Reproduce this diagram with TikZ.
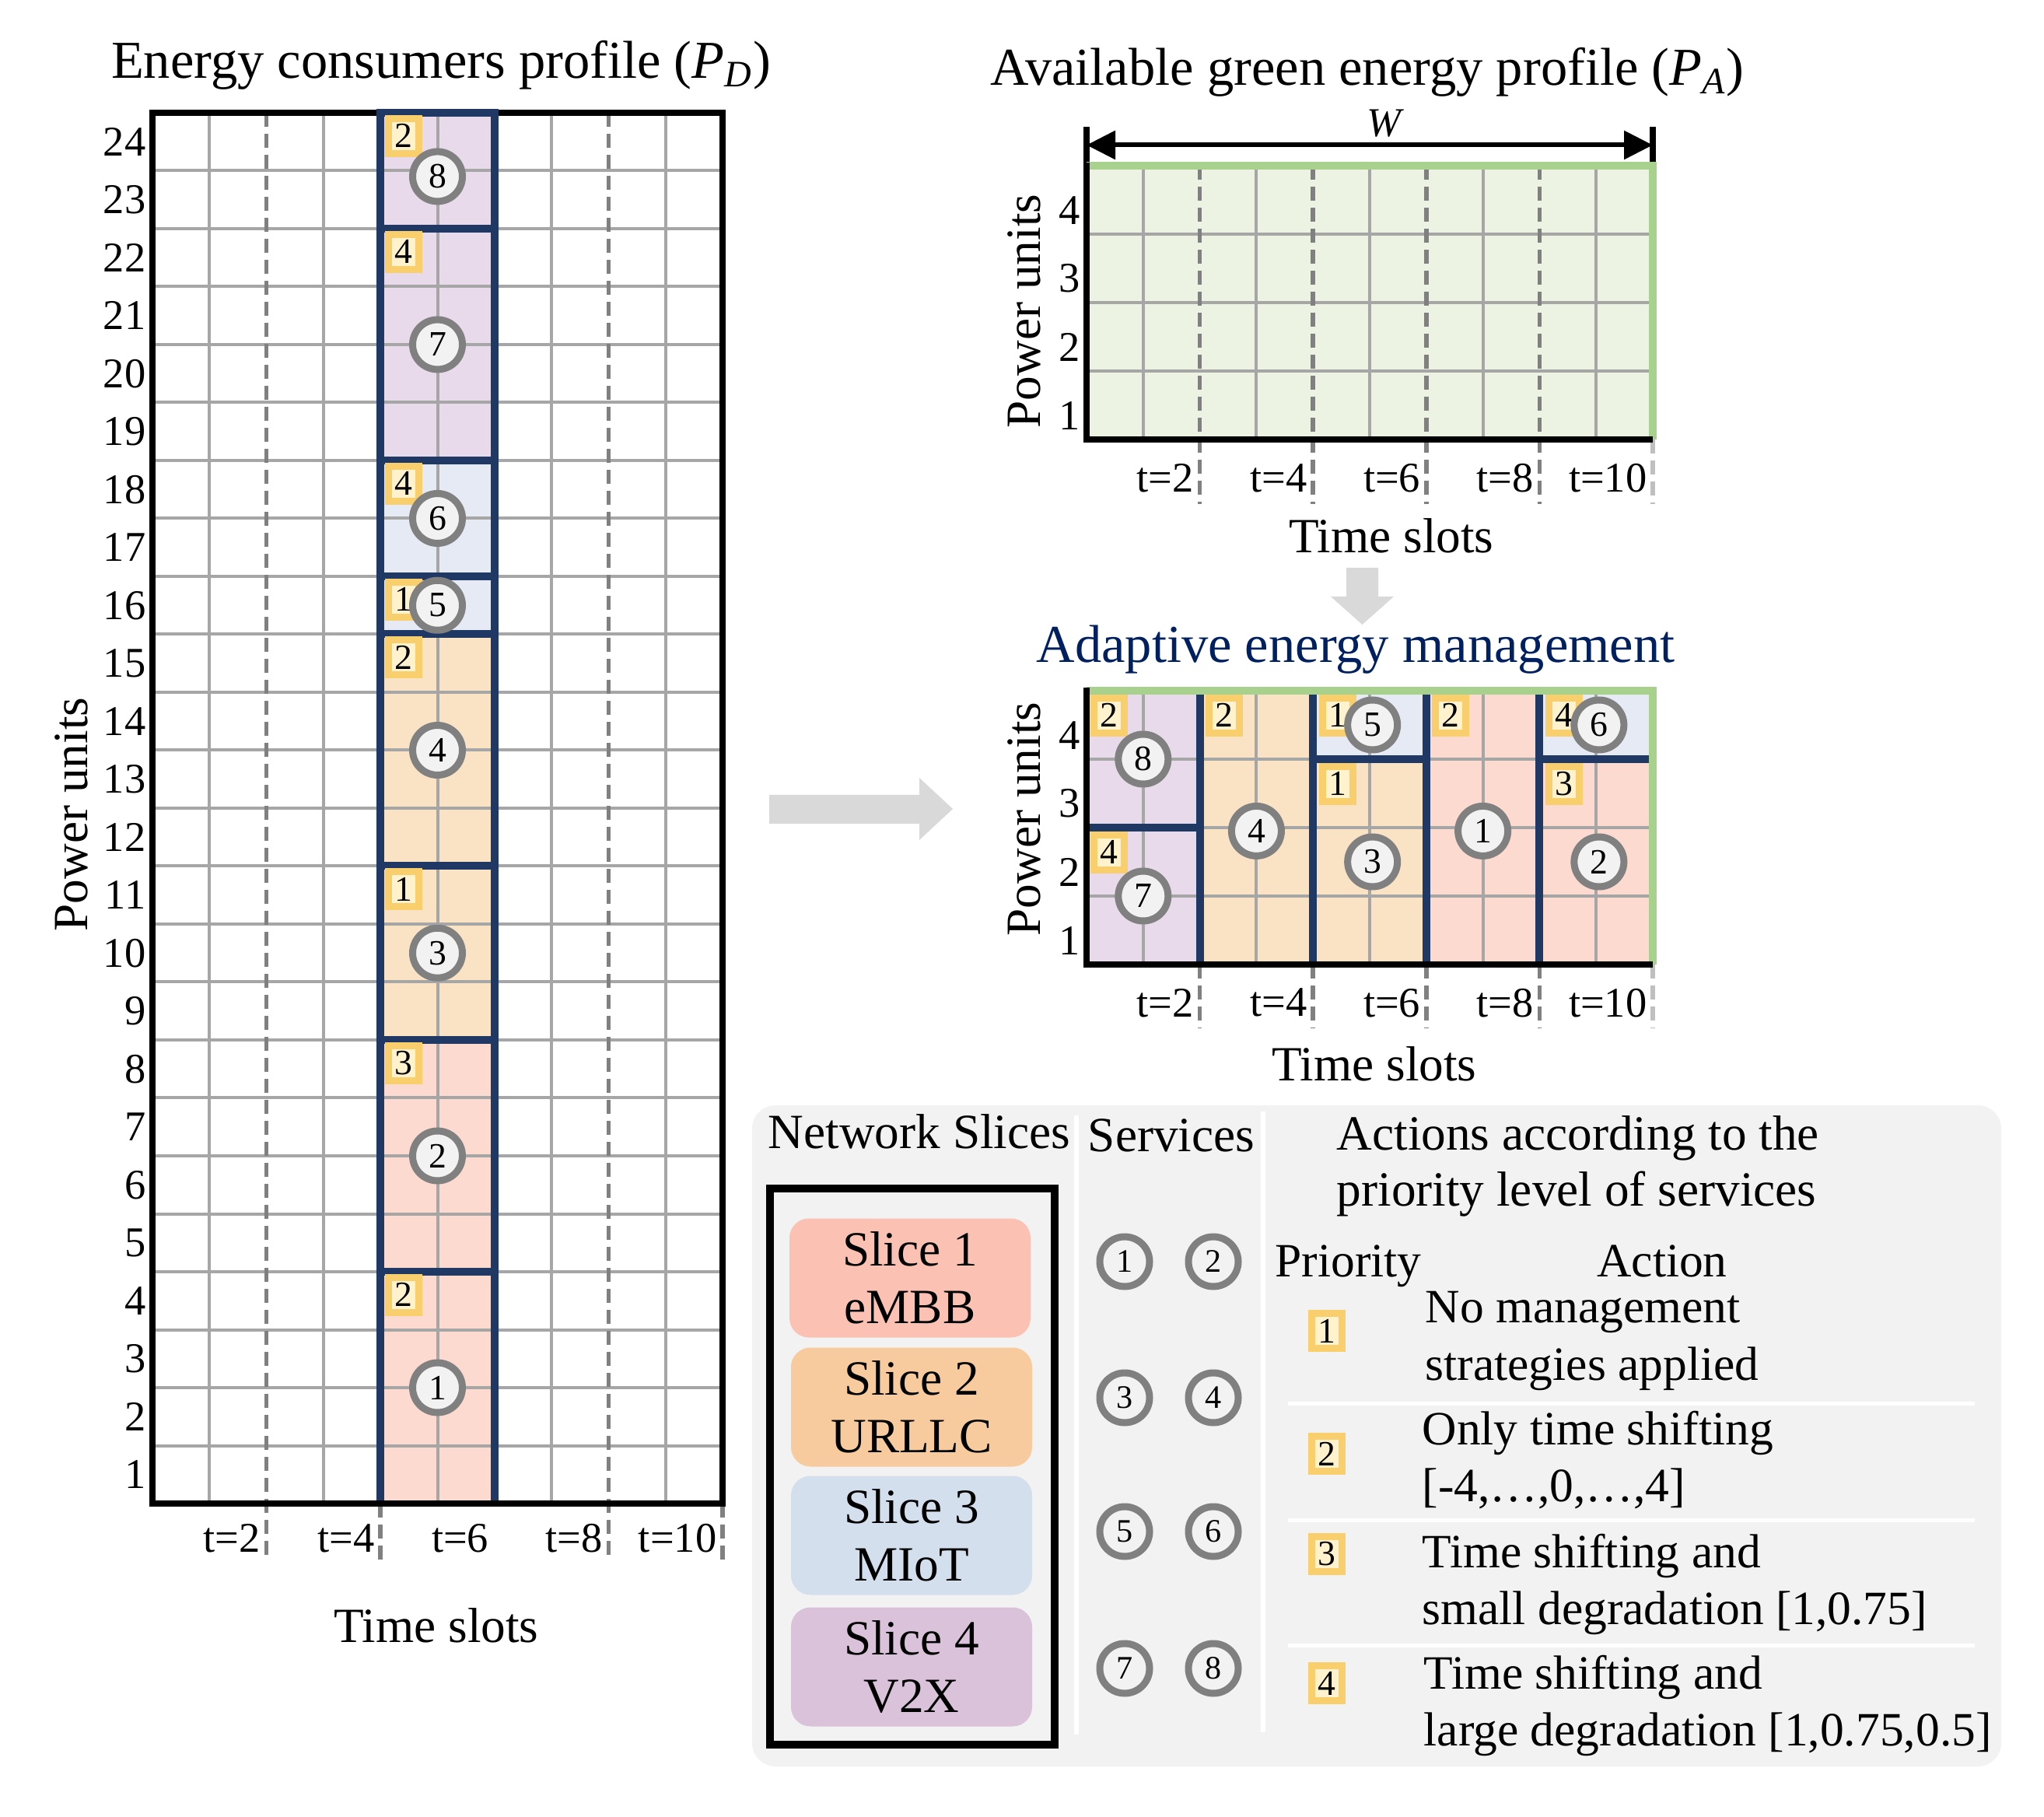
\documentclass[tikz,border=0pt]{standalone}
\usepackage{fontspec}
\setmainfont{Liberation Serif}
\usetikzlibrary{arrows.meta,positioning,calc}

\definecolor{navy}{HTML}{1F3864}
\definecolor{gridgray}{HTML}{A6A6A6}
\definecolor{dashgray}{HTML}{808080}
\definecolor{lightdash}{HTML}{BFBFBF}
\definecolor{redfill}{HTML}{FCDAD0}
\definecolor{orgfill}{HTML}{FAE3C5}
\definecolor{bluefill}{HTML}{E6EAF4}
\definecolor{purfill}{HTML}{E8DAEA}
\definecolor{greenfill}{HTML}{EDF3E3}
\definecolor{greenline}{HTML}{A9D18E}
\definecolor{badgefill}{HTML}{FFF2CC}
\definecolor{badgeline}{HTML}{F9CF6E}
\definecolor{circfill}{HTML}{F2F2F2}
\definecolor{panelgray}{HTML}{F2F2F2}
\definecolor{arrowgray}{HTML}{D9D9D9}
\definecolor{slicered}{HTML}{FBC1B3}
\definecolor{sliceorg}{HTML}{F8CB9F}
\definecolor{sliceblue}{HTML}{D4DFEE}
\definecolor{slicepur}{HTML}{D9C2DA}
\definecolor{titleblue}{HTML}{002060}

\begin{document}
\begin{tikzpicture}[x=1mm,y=1mm,
    svc/.style={circle, draw=dashgray, line width=0.9mm, fill=circfill, minimum size=6.4mm, inner sep=0pt, font=\fontsize{13}{15}\selectfont},
    prio/.style={rectangle, draw=badgeline, line width=0.9mm, fill=badgefill, minimum width=3.9mm, minimum height=4.5mm, inner sep=0pt, font=\fontsize{13}{15}\selectfont},
    gridln/.style={gridgray, line width=0.4mm},
    dashln/.style={dashgray, line width=0.55mm, dash pattern=on 1.8mm off 0.9mm},
    navyln/.style={navy, line width=1mm},
    frameln/.style={black, line width=0.8mm},
    ylbl/.style={anchor=east, inner sep=0pt, xshift=-0.8mm, font=\fontsize{15.5}{18}\selectfont},
    tlbl/.style={anchor=east, inner sep=0pt, xshift=-0.7mm, font=\fontsize{15.5}{18}\selectfont},
    ttl/.style={inner sep=0pt, font=\fontsize{19.5}{23}\selectfont},
    axlbl/.style={inner sep=0pt, font=\fontsize{18}{21}\selectfont},
    slicebox/.style={rounded corners=2.5mm, minimum width=31mm, minimum height=15.3mm, align=center, inner sep=0pt, font=\fontsize{18}{21}\selectfont},
    legtxt/.style={inner sep=0pt, align=left, font=\fontsize{17.5}{21}\selectfont}]

\useasboundingbox (0,0) rectangle (262.8,233.5);

% Energy consumers profile
\node[ttl] (ttlD) at (56.7,225.1) {Energy consumers profile ({\itshape P}\textsubscript{\itshape D})};
\begin{scope}[shift={(19.6mm,40.2mm)}, x=7.33mm, y=7.45mm]
    % Blocks
    \fill[redfill] (4,0) rectangle (6,8);
    \fill[orgfill] (4,8) rectangle (6,15);
    \fill[bluefill] (4,15) rectangle (6,18);
    \fill[purfill] (4,18) rectangle (6,24);
    % Grid
    \foreach \x in {1,3,4,5,6,7,9} \draw[gridln] (\x,0) -- (\x,24);
    \foreach \y in {1,...,23} \draw[gridln] (0,\y) -- (10,\y);
    \foreach \x in {2,8} \draw[dashln] (\x,24) -- (\x,-1);
    \foreach \x in {4,10} \draw[dashln] (\x,0) -- (\x,-1);
    \draw[frameln] (0,0) rectangle (10,24);
    % Slice borders
    \draw[navyln] (4,0) -- (4,24) -- (6,24) -- (6,0);
    \foreach \y in {4,8,11,15,16,18,22} \draw[navyln] (4,\y) -- (6,\y);
    \draw[frameln] (0,0) -- (10,0);
    % Services
    \foreach \s/\cy/\tp/\p in {1/2/4/2, 2/6/8/3, 3/9.5/11/1, 4/13/15/2, 5/15.5/16/1, 6/17/18/4, 7/20/22/4, 8/22.9/24/2} {
        \node[prio] (dp\s) at (4.4,\tp-0.4) {\p};
        \node[svc] (d\s) at (5,\cy) {\s};
    }
    % Axes
    \foreach \r in {1,...,24} \node[ylbl] (dy\r) at (0,\r-0.5) {\r};
    \foreach \t in {2,4,...,10} \node[tlbl] (dt\t) at (\t,-0.6) {t=\t};
\end{scope}
\node[axlbl, rotate=90] (pwrD) at (9.2,128.8) {Power units};
\node[axlbl] (timeD) at (56.1,24.5) {Time slots};

% Available green energy profile
\node[ttl] (ttlA) at (175.8,224.2) {Available green energy profile ({\itshape P}\textsubscript{\itshape A})};
\coordinate (wl) at (139.7,214.85);
\coordinate (wr) at (212.5,214.85);
\draw[line width=0.8mm] (139.7,211.7) -- (139.7,217.2);
\draw[line width=0.8mm] (212.5,211.7) -- (212.5,217.2);
\draw[line width=0.6mm, {Triangle[length=3.7mm,width=3.6mm]}-{Triangle[length=3.7mm,width=3.6mm]}] (wl) -- (wr);
\node[inner sep=0pt, font=\fontsize{15}{18}\selectfont\itshape] (wlbl) at (177.9,217.6) {W};
\begin{scope}[shift={(139.7mm,177.0mm)}, x=7.28mm, y=8.8mm]
    \fill[greenfill] (0,0) rectangle (10,4);
    \foreach \x in {1,3,5,7,9} \draw[gridln] (\x,0) -- (\x,4);
    \foreach \y in {1,2,3} \draw[gridln] (0,\y) -- (10,\y);
    \foreach \x in {2,4,6,8} \draw[dashln] (\x,4) -- (\x,-0.94);
    \draw[dashln, lightdash] (10,0) -- (10,-0.94);
    \draw[greenline, line width=1mm] (0,4) -- (10,4) -- (10,0);
    \draw[frameln] (0,4.05) -- (0,0) -- (10,0);
    \foreach \r in {1,...,4} \node[ylbl] (ay\r) at (0,\r-0.65) {\r};
    \foreach \t in {2,4,...,10} \node[tlbl] (at\t) at (\t,-0.57) {t=\t};
\end{scope}
\node[axlbl, rotate=90] (pwrA) at (131.7,193.5) {Power units};
\node[axlbl] (timeA) at (178.9,164.6) {Time slots};

% Arrows
\fill[arrowgray] (173.1,160.5) -- (177.2,160.5) -- (177.2,156.8) -- (179.2,156.8) -- (175.15,153.2) -- (171.1,156.8) -- (173.1,156.8) -- cycle;
\fill[arrowgray] (98.9,131.3) -- (118.2,131.3) -- (118.2,133.5) -- (122.5,129.5) -- (118.2,125.5) -- (118.2,127.6) -- (98.9,127.6) -- cycle;

% Adaptive energy management
\node[ttl, text=titleblue] (ttlM) at (174.3,150.0) {Adaptive energy management};
\begin{scope}[shift={(139.7mm,109.5mm)}, x=7.28mm, y=8.8mm]
    \fill[purfill] (0,0) rectangle (2,4);
    \fill[orgfill] (2,0) rectangle (4,4);
    \fill[orgfill] (4,0) rectangle (6,3);
    \fill[bluefill] (4,3) rectangle (6,4);
    \fill[redfill] (6,0) rectangle (8,4);
    \fill[redfill] (8,0) rectangle (10,3);
    \fill[bluefill] (8,3) rectangle (10,4);
    \foreach \x in {1,3,5,7,9} \draw[gridln] (\x,0) -- (\x,4);
    \foreach \y in {1,2,3} \draw[gridln] (0,\y) -- (10,\y);
    \foreach \x in {2,4,6,8} \draw[dashln] (\x,0) -- (\x,-0.93);
    \draw[dashln, lightdash] (10,0) -- (10,-0.93);
    \foreach \x in {2,4,6,8} \draw[navyln] (\x,0) -- (\x,4);
    \draw[navyln] (0,2) -- (2,2);
    \draw[navyln] (4,3) -- (6,3);
    \draw[navyln] (8,3) -- (10,3);
    \draw[greenline, line width=1mm] (0,4) -- (10,4) -- (10,0);
    \draw[frameln] (0,4.05) -- (0,0) -- (10,0);
    \foreach \s/\cx/\cy/\bx/\by/\p in {8/1/3/0.4/3.64/2, 7/1/1/0.4/1.64/4, 4/3/1.95/2.43/3.64/2, 5/5.05/3.5/4.43/3.64/1, 3/5.05/1.5/4.43/2.64/1, 1/7/1.95/6.43/3.64/2, 6/9.05/3.5/8.43/3.64/4, 2/9.05/1.5/8.43/2.64/3} {
        \node[prio] (mp\s) at (\bx,\by) {\p};
        \node[svc] (m\s) at (\cx,\cy) {\s};
    }
    \foreach \r in {1,...,4} \node[ylbl] (my\r) at (0,\r-0.65) {\r};
    \foreach \t in {2,4,...,10} \node[tlbl] (mt\t) at (\t,-0.56) {t=\t};
\end{scope}
\node[axlbl, rotate=90] (pwrM) at (131.7,128.2) {Power units};
\node[axlbl] (timeM) at (176.7,96.7) {Time slots};

% Legend
\fill[panelgray, rounded corners=3mm] (96.7,6.4) rectangle (257.3,91.4);
\draw[white, line width=0.6mm] (138.4,10.5) -- (138.4,90.1);
\draw[white, line width=0.6mm] (162.4,10.8) -- (162.4,90.6);
\foreach \y in {53.1,38.1,22.0} \draw[white, line width=0.5mm] (165.6,\y) -- (253.9,\y);
\node[axlbl] (hdrN) at (118.2,88.0) {Network Slices};
\node[axlbl] (hdrS) at (150.6,87.5) {Services};
\node[legtxt, anchor=west, font=\fontsize{18}{20.5}\selectfont] (hdrA) at (171.8,83.6) {Actions according to the\\priority level of services};
\draw[line width=1mm] (99.0,9.2) rectangle (135.6,80.7);
\node[slicebox, fill=slicered] (sl1) at (117.0,69.2) {Slice 1\\eMBB};
\node[slicebox, fill=sliceorg] (sl2) at (117.2,52.6) {Slice 2\\URLLC};
\node[slicebox, fill=sliceblue] (sl3) at (117.2,36.1) {Slice 3\\MIoT};
\node[slicebox, fill=slicepur] (sl4) at (117.2,19.2) {Slice 4\\V2X};
\foreach \a/\b/\y in {1/2/71.3, 3/4/53.8, 5/6/36.6, 7/8/19.0} {
    \node[svc, font=\fontsize{12}{14}\selectfont] (l\a) at (144.6,\y) {\a};
    \node[svc, font=\fontsize{12}{14}\selectfont] (l\b) at (156.0,\y) {\b};
}
\node[legtxt, anchor=base west] (hdrP) at (163.9,69.4) {Priority};
\node[legtxt, anchor=base] (hdrAc) at (213.7,69.4) {Action};
\node[prio] (lp1) at (170.6,62.4) {1};
\node[prio] (lp2) at (170.6,46.6) {2};
\node[prio] (lp3) at (170.6,33.7) {3};
\node[prio] (lp4) at (170.6,17.1) {4};
\node[legtxt, anchor=west] (act1) at (183.2,61.1) {No management\\strategies applied};
\node[legtxt, anchor=west] (act2) at (182.8,45.8) {Only time shifting\\{[-4,\dots,0,\dots,4]}};
\node[legtxt, anchor=west] (act3) at (182.8,29.8) {Time shifting and\\small degradation [1,0.75]};
\node[legtxt, anchor=west] (act4) at (183.0,14.2) {Time shifting and\\large degradation [1,0.75,0.5]};

\end{tikzpicture}
\end{document}
